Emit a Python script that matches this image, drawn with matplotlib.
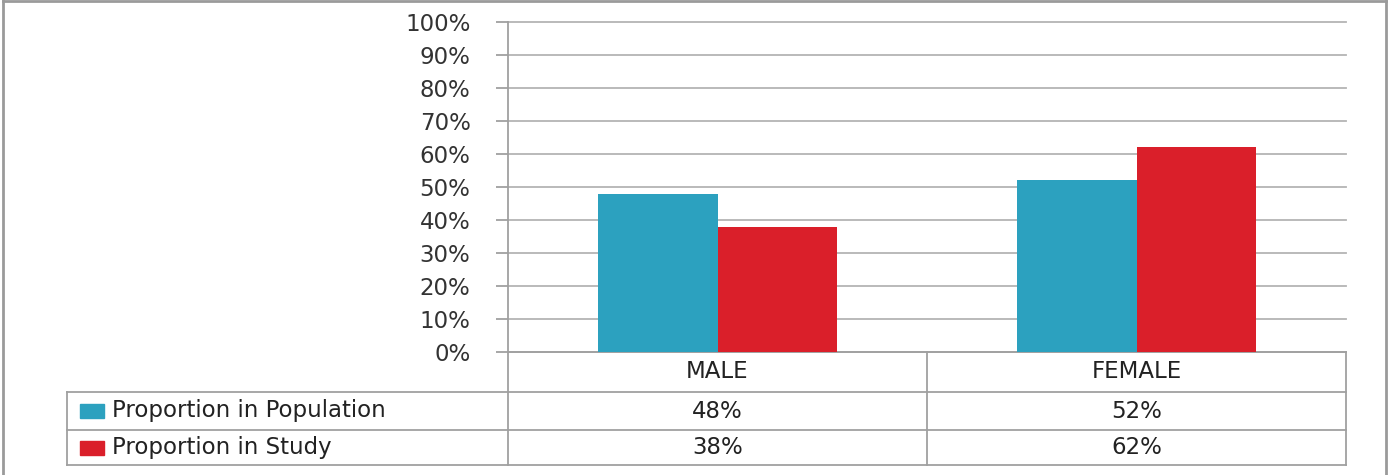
import numpy as np
import matplotlib
matplotlib.use("Agg")
import matplotlib.pyplot as plt
from matplotlib.patches import Rectangle
from matplotlib.lines import Line2D
from matplotlib.transforms import blended_transform_factory

categories = ["MALE", "FEMALE"]
series_names = ["Proportion in Population", "Proportion in Study"]
population = [48, 52]
study = [38, 62]
colors = ["#2ca1bf", "#da1f2a"]

W, H = 1388, 475
plt.rcParams["font.family"] = "DejaVu Sans"
fig = plt.figure(figsize=(W / 100, H / 100), dpi=100)

# plot area in pixels
px0, px1, py0, py1 = 508, 1346, 22, 352
ax = fig.add_axes([px0 / W, 1 - py1 / H, (px1 - px0) / W, (py1 - py0) / H])

x = np.arange(len(categories))
bw = 1 / 3.5
ax.bar(x - bw / 2, population, bw, color=colors[0], zorder=3)
ax.bar(x + bw / 2, study, bw, color=colors[1], zorder=3)

fs = 16.5
ax.set_xlim(-0.5, len(categories) - 0.5)
ax.set_ylim(0, 100)
yt = np.arange(0, 101, 10)
ax.set_yticks(yt)
ax.set_yticklabels([f"{v}%" for v in yt], fontsize=fs, color="#333333")
ax.set_xticks([])
ax.yaxis.grid(True, color="#b4b4b4", linewidth=1.3, zorder=0)
for gl in ax.get_ygridlines():
    gl.set_clip_on(False)
ax.tick_params(axis="y", length=9, width=1.3, color="#a0a0a0", pad=18)
for s in ["top", "right"]:
    ax.spines[s].set_visible(False)
for s in ["left", "bottom"]:
    ax.spines[s].set_color("#a0a0a0")
    ax.spines[s].set_linewidth(1.3)

# data table below the plot
lc = "#a0a0a0"
fy = lambda p: 1 - p / H
fx = lambda p: p / W
tf = fig.transFigure
bt = blended_transform_factory(ax.transData, fig.transFigure)
tx0 = 67
row_y = [352, 392, 430, 465]
for yy in row_y[1:]:
    fig.add_artist(Line2D([fx(tx0), fx(px1)], [fy(yy), fy(yy)], color=lc, lw=1.3, transform=tf))
fig.add_artist(Line2D([fx(tx0), fx(tx0)], [fy(row_y[1]), fy(row_y[3])], color=lc, lw=1.3, transform=tf))
for b in np.arange(len(categories) + 1) - 0.5:
    fig.add_artist(Line2D([b, b], [fy(row_y[0]), fy(row_y[3])], color=lc, lw=1.3, transform=bt))

tc = "#222222"
for j, c in enumerate(categories):
    fig.text(x[j], fy((row_y[0] + row_y[1]) / 2), c, transform=bt, ha="center", va="center",
             fontsize=fs, color=tc)
for i, (name, vals) in enumerate(zip(series_names, [population, study])):
    yc = (row_y[i + 1] + row_y[i + 2]) / 2
    fig.add_artist(Rectangle((fx(80), fy(yc + 7)), 24 / W, 14 / H, transform=tf,
                             color=colors[i]))
    fig.text(fx(112), fy(yc), name, ha="left", va="center", fontsize=fs, color=tc)
    for j, v in enumerate(vals):
        fig.text(x[j], fy(yc), f"{v}%", transform=bt, ha="center", va="center",
                 fontsize=fs, color=tc)

# outer chart border
bc = "#9a9a9a"
fig.add_artist(Line2D([fx(3), fx(3)], [0, fy(1)], color=bc, lw=2, transform=tf))
fig.add_artist(Line2D([fx(3), fx(1386)], [fy(1), fy(1)], color=bc, lw=2, transform=tf))
fig.add_artist(Line2D([fx(1386), fx(1386)], [0, fy(1)], color=bc, lw=2, transform=tf))

fig.savefig("out.png", dpi=100)
